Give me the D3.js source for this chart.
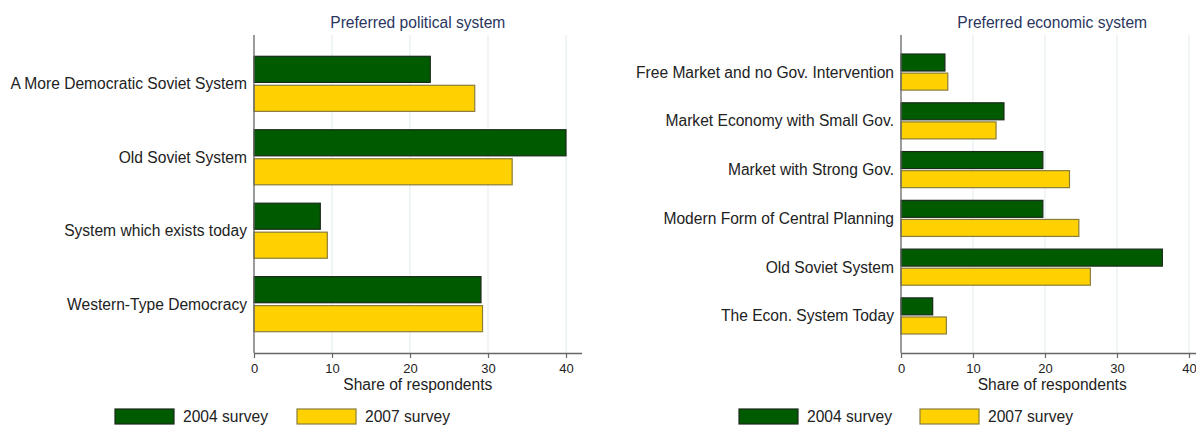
<!DOCTYPE html>
<html>
<head>
<meta charset="utf-8">
<script src="https://cdn.jsdelivr.net/npm/d3@7"></script>
<style>
  body { margin: 0; background: #fff; }
  svg { display: block; font-family: "Liberation Sans", Arial, sans-serif; }
</style>
</head>
<body>
<svg id="chart" width="1196" height="426"></svg>
<script>
// ---- data ----
const series = ['2004 survey', '2007 survey'];
const xTicks = [0, 10, 20, 30, 40];

const politicalCats = ['A More Democratic Soviet System', 'Old Soviet System',
  'System which exists today', 'Western-Type Democracy'];
const political2004 = [22.6, 40.0, 8.5, 29.1];
const political2007 = [28.3, 33.1, 9.4, 29.3];

const economicCats = ['Free Market and no Gov. Intervention', 'Market Economy with Small Gov.',
  'Market with Strong Gov.', 'Modern Form of Central Planning', 'Old Soviet System',
  'The Econ. System Today'];
const economic2004 = [6.1, 14.3, 19.7, 19.7, 36.3, 4.4];
const economic2007 = [6.5, 13.2, 23.4, 24.7, 26.3, 6.3];

const fills = { '2004 survey': '#005a00', '2007 survey': '#ffd100' };
const strokes = { '2004 survey': '#1a2a1a', '2007 survey': '#8a7d3a' };

const FS = 15.6; // main text size

const svg = d3.select('#chart');

function drawPanel(opts) {
  const { title, cats, v2004, v2007, x0, x1, padInner, padOuter, barPad, legendX } = opts;
  const top = 35, bottom = 353;

  const x = d3.scaleLinear().domain([0, 42]).range([x0, x1]);
  const y = d3.scaleBand().domain(cats).range([top, bottom])
    .paddingInner(padInner).paddingOuter(padOuter);
  const ySub = d3.scaleBand().domain(series).range([0, y.bandwidth()]).paddingInner(barPad);

  const g = svg.append('g');

  // gridlines
  g.selectAll('.grid').data(xTicks.slice(1)).enter().append('line')
    .attr('x1', d => x(d)).attr('x2', d => x(d))
    .attr('y1', top).attr('y2', bottom)
    .attr('stroke', '#e6eef1').attr('stroke-width', 1.2);

  // title
  g.append('text')
    .attr('x', (x(0) + x(42)) / 2).attr('y', 28)
    .attr('text-anchor', 'middle')
    .attr('font-size', FS).attr('fill', '#2a3660')
    .text(title);

  // bars
  const rows = cats.map((c, i) => ({ cat: c, vals: [v2004[i], v2007[i]] }));
  const grp = g.selectAll('.grp').data(rows).enter().append('g')
    .attr('transform', d => `translate(0,${y(d.cat)})`);
  grp.selectAll('rect').data(d => series.map((s, j) => ({ s, v: d.vals[j] })))
    .enter().append('rect')
    .attr('x', x(0))
    .attr('y', d => ySub(d.s))
    .attr('width', d => x(d.v) - x(0))
    .attr('height', ySub.bandwidth())
    .attr('fill', d => fills[d.s])
    .attr('stroke', d => strokes[d.s])
    .attr('stroke-width', 1.2);

  // category labels
  g.selectAll('.lab').data(cats).enter().append('text')
    .attr('x', x(0) - 7)
    .attr('y', d => y(d) + y.bandwidth() / 2)
    .attr('dy', '0.35em')
    .attr('text-anchor', 'end')
    .attr('font-size', FS).attr('fill', '#222')
    .text(d => d);

  // y axis line
  g.append('line')
    .attr('x1', x(0)).attr('x2', x(0)).attr('y1', top).attr('y2', bottom)
    .attr('stroke', '#666').attr('stroke-width', 1.3);

  // x axis
  const ax = g.append('g').attr('transform', `translate(0,${bottom})`)
    .call(d3.axisBottom(x).tickValues(xTicks).tickSize(5).tickSizeOuter(0));
  ax.select('.domain').attr('stroke', '#666').attr('stroke-width', 1.3);
  ax.selectAll('.tick line').attr('stroke', '#666').attr('stroke-width', 1.2);
  ax.selectAll('.tick text').attr('font-size', 13).attr('fill', '#222')
    .attr('font-family', '"Liberation Sans", Arial, sans-serif').attr('dy', '0.9em');

  g.append('text')
    .attr('x', (x(0) + x(42)) / 2).attr('y', 390)
    .attr('text-anchor', 'middle')
    .attr('font-size', FS).attr('fill', '#222')
    .text('Share of respondents');

  // legend
  const leg = g.selectAll('.leg').data(series).enter().append('g')
    .attr('transform', (d, i) => `translate(${legendX[i]},409)`);
  leg.append('rect')
    .attr('width', 59).attr('height', 15)
    .attr('fill', d => fills[d]).attr('stroke', d => strokes[d]).attr('stroke-width', 1.2);
  leg.append('text')
    .attr('x', 68).attr('y', 7.5).attr('dy', '0.35em')
    .attr('font-size', FS).attr('fill', '#222')
    .text(d => d);
}

drawPanel({
  title: 'Preferred political system', cats: politicalCats,
  v2004: political2004, v2007: political2007,
  x0: 254, x1: 581.6, padInner: 0.25, padOuter: 0.29, barPad: 0.1,
  legendX: [115, 297]
});

drawPanel({
  title: 'Preferred economic system', cats: economicCats,
  v2004: economic2004, v2007: economic2007,
  x0: 901, x1: 1203.4, padInner: 0.26, padOuter: 0.39, barPad: 0.11,
  legendX: [739, 920]
});
</script>
</body>
</html>
